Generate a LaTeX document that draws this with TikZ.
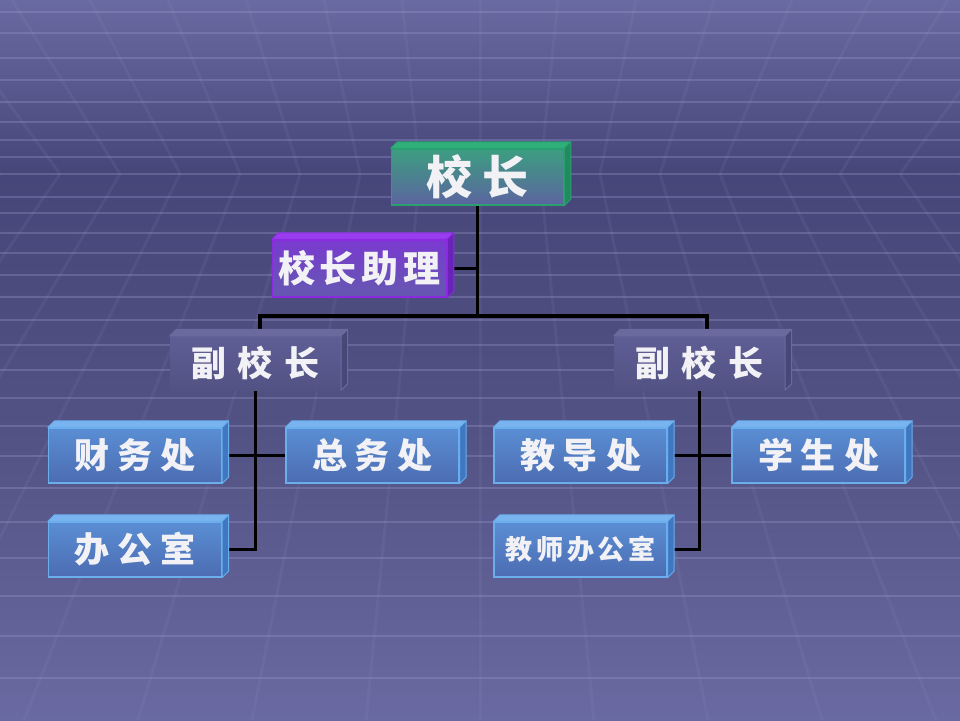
\documentclass[tikz,border=0pt]{standalone}
\usepackage{fontspec}
\newfontfamily\cjk{Noto Sans CJK SC}
\pgfdeclarelayer{back}
\pgfdeclarelayer{lines}
\pgfsetlayers{back,lines,main}
\definecolor{bgTop}{HTML}{6A6AA2}
\definecolor{bgMid}{HTML}{46467A}
\definecolor{bgLow}{HTML}{525284}
\definecolor{bgBot}{HTML}{6A6AA2}
\definecolor{gridc}{HTML}{9A9ACC}
\definecolor{grnB}{HTML}{2AA070}
\definecolor{grnF1}{HTML}{3C9E80}
\definecolor{grnF2}{HTML}{5C64A0}
\definecolor{grnTop}{HTML}{2FB07A}
\definecolor{grnSide}{HTML}{238A60}
\definecolor{purB}{HTML}{8A2BE0}
\definecolor{purF1}{HTML}{7A3AD0}
\definecolor{purF2}{HTML}{6458B0}
\definecolor{purTop}{HTML}{9A3CF0}
\definecolor{purSide}{HTML}{6A22B8}
\definecolor{bluB}{HTML}{6AAEEE}
\definecolor{bluF1}{HTML}{5A8ED4}
\definecolor{bluF2}{HTML}{4C6CB2}
\definecolor{bluTop}{HTML}{7AB4F0}
\definecolor{bluSide}{HTML}{3F78C0}
\definecolor{gryF1}{HTML}{5E5E96}
\definecolor{gryF2}{HTML}{525284}
\definecolor{gryTop}{HTML}{6A6A9E}
\definecolor{grySide}{HTML}{484878}
\definecolor{txtc}{HTML}{F2F2F6}
\pgfdeclareverticalshading{bgshade}{100bp}{color(0bp)=(bgBot); color(25bp)=(bgBot); color(45bp)=(bgLow); color(63bp)=(bgMid); color(75bp)=(bgTop); color(100bp)=(bgTop)}
\newcommand\faces[4]{%
  \filldraw[fill=#2,draw=#4,line width=1pt,line join=round] (#1.north west) -- ([shift={(6.5pt,6.5pt)}]#1.north west) -- ([shift={(6.5pt,6.5pt)}]#1.north east) -- (#1.north east) -- cycle;
  \filldraw[fill=#3,draw=#4,line width=1pt,line join=round] (#1.north east) -- ([shift={(6.5pt,6.5pt)}]#1.north east) -- ([shift={(6.5pt,6.5pt)}]#1.south east) -- (#1.south east) -- cycle;}
\tikzset{
  org/.style={inner sep=0pt, text=txtc, minimum height=55pt},
  greenbox/.style={org, draw=grnB, line width=1.5pt, top color=grnF1, bottom color=grnF2, minimum width=172pt, minimum height=56pt},
  purplebox/.style={org, draw=purB, line width=1.5pt, top color=purF1, bottom color=purF2, minimum width=174pt, minimum height=57pt},
  graybox/.style={org, top color=gryF1, bottom color=gryF2, minimum width=171pt, minimum height=54pt},
  bluebox/.style={org, draw=bluB, line width=1.2pt, top color=bluF1, bottom color=bluF2, minimum width=173pt, minimum height=55pt},
  conn/.style={line width=3.2pt, black},
  gridline/.style={gridc, line width=1.2pt, opacity=0.32},
  rayline/.style={gridc, line width=3pt, opacity=0.1}
}
\begin{document}
\begin{tikzpicture}[x=1pt,y=-1pt]
\useasboundingbox (0,0) rectangle (960,720);
\begin{pgfonlayer}{back}
\shade[shading=bgshade] (0,0) rectangle (960,720);
\foreach \yy in {12,33,58,80,102,122,140,157,174,197,213,233,253,275,297,320,345,370,398,426,456,488,522,558,596,636,678}
  \draw[gridline] (0,\yy) -- (960,\yy);
\foreach \xh in {-60,0,...,1020} {
  \draw[rayline] (\xh,174) -- ({\xh+(\xh-480)*0.3},0);
  \draw[rayline] (\xh,174) -- ({\xh+(\xh-480)*0.9},720);
}
\end{pgfonlayer}

% nodes
\node[greenbox] (xz) at (477.5,177) {\cjk\bfseries\fontsize{46}{50}\selectfont 校\hspace{10pt}长};
\faces{xz}{grnTop}{grnSide}{grnB}
\node[purplebox] (zl) at (359.5,268.5) {\cjk\bfseries\fontsize{37}{40}\selectfont 校\hspace{5pt}长\hspace{5pt}助\hspace{5pt}理};
\faces{zl}{purTop}{purSide}{purB}
\node[graybox] (fxL) at (255.5,363) {\cjk\bfseries\fontsize{35}{38}\selectfont 副\hspace{12pt}校\hspace{12pt}长};
\faces{fxL}{gryTop}{grySide}{gryTop}
\node[graybox] (fxR) at (699.5,363) {\cjk\bfseries\fontsize{35}{38}\selectfont 副\hspace{12pt}校\hspace{12pt}长};
\faces{fxR}{gryTop}{grySide}{gryTop}
\node[bluebox] (cw) at (135,455.5) {\cjk\bfseries\fontsize{35}{38}\selectfont 财\hspace{8pt}务\hspace{8pt}处};
\faces{cw}{bluTop}{bluSide}{bluB}
\node[bluebox] (zw) at (372.5,455.5) {\cjk\bfseries\fontsize{35}{38}\selectfont 总\hspace{8pt}务\hspace{8pt}处};
\faces{zw}{bluTop}{bluSide}{bluB}
\node[bluebox] (bgs) at (135,549.5) {\cjk\bfseries\fontsize{35}{38}\selectfont 办\hspace{8pt}公\hspace{8pt}室};
\faces{bgs}{bluTop}{bluSide}{bluB}
\node[bluebox] (jd) at (580.5,455.5) {\cjk\bfseries\fontsize{35}{38}\selectfont 教\hspace{8pt}导\hspace{8pt}处};
\faces{jd}{bluTop}{bluSide}{bluB}
\node[bluebox] (xs) at (818.5,455.5) {\cjk\bfseries\fontsize{35}{38}\selectfont 学\hspace{8pt}生\hspace{8pt}处};
\faces{xs}{bluTop}{bluSide}{bluB}
\node[bluebox] (jsbgs) at (580.5,549.5) {\cjk\bfseries\fontsize{27}{30}\selectfont 教\hspace{4pt}师\hspace{4pt}办\hspace{4pt}公\hspace{4pt}室};
\faces{jsbgs}{bluTop}{bluSide}{bluB}

\coordinate (jL) at (260,316);
\coordinate (jR) at (707,316);

\begin{pgfonlayer}{lines}
\draw[conn] (xz.center) -- (xz.center |- jL);
\draw[conn] (zl.center) -- (zl.center -| xz.center);
\draw[conn] (jL |- fxL.center) -- (jL) -- (jR) -- (jR |- fxR.center);
\draw[conn] (fxL.center) -- (fxL.center |- bgs.center) -- (bgs.center);
\draw[conn] (cw.center) -- (zw.center);
\draw[conn] (fxR.center) -- (fxR.center |- jsbgs.center) -- (jsbgs.center);
\draw[conn] (jd.center) -- (xs.center);
\end{pgfonlayer}
\end{tikzpicture}
\end{document}
